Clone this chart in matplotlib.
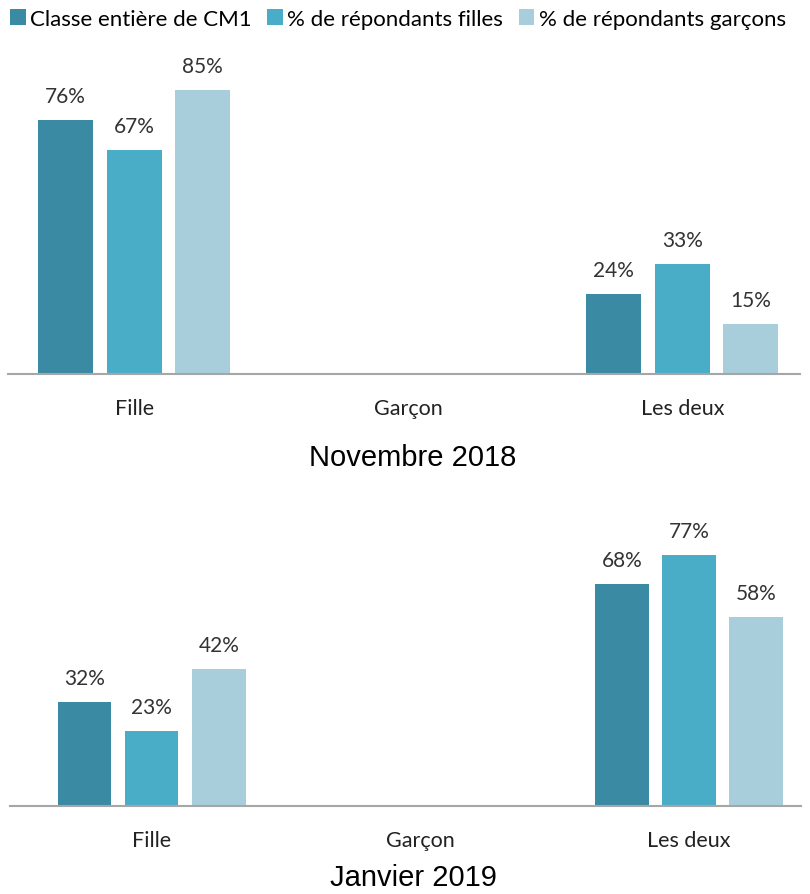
import matplotlib.pyplot as plt
import numpy as np

categories = ["Fille", "Garçon", "Les deux"]
series_names = ["Classe entière de CM1", "% de répondants filles", "% de répondants garçons"]

# valeurs en %, None = pas de barre
nov_2018 = [
    [76, None, 24],
    [67, None, 33],
    [85, None, 15],
]
jan_2019 = [
    [32, None, 68],
    [23, None, 77],
    [42, None, 58],
]

colors = ["#3a8aa3", "#4aadc8", "#a8cedc"]
label_font = ["Lato", "DejaVu Sans"]
title_font = ["Liberation Sans Narrow", "Liberation Sans", "DejaVu Sans"]

fig = plt.figure(figsize=(8.1, 8.95), dpi=100)

ax1 = fig.add_axes([0.0099, 0.581, 0.978, 0.363])
ax2 = fig.add_axes([0.0123, 0.098, 0.976, 0.343])


def draw_panel(ax, data, ymax, xlim):
    x = np.arange(len(categories))
    width = 0.2
    offsets = [-0.25, 0, 0.25]
    for k, serie in enumerate(data):
        for i, v in enumerate(serie):
            if v is None:
                continue
            ax.bar(x[i] + offsets[k], v, width, color=colors[k],
                   label=series_names[k] if i == 0 else None)
            ax.annotate(f"{v}%", (x[i] + offsets[k], v), xytext=(0, 10),
                        textcoords="offset points", ha="center", va="bottom",
                        fontsize=15, family=label_font, color="#333333")
    ax.set_ylim(0, ymax)
    ax.set_xlim(*xlim)
    ax.set_xticks(x)
    ax.set_xticklabels(categories, family=label_font, fontsize=15.5, color="#222222")
    ax.tick_params(axis="x", length=0, pad=17)
    ax.set_yticks([])
    for s in ["top", "right", "left"]:
        ax.spines[s].set_visible(False)
    ax.spines["bottom"].set_color("#a6a6a6")
    ax.spines["bottom"].set_linewidth(1.5)


draw_panel(ax1, nov_2018, 97.3, (-0.46, 2.43))
draw_panel(ax2, jan_2019, 93.9, (-0.527, 2.415))

fig.text(0.51, 0.488, "Novembre 2018", ha="center", va="center",
         fontsize=21, family=title_font)
fig.text(0.51, 0.003, "Janvier 2019", ha="center", va="bottom",
         fontsize=21, family=title_font)

handles, labels = ax1.get_legend_handles_labels()
fig.legend(handles, labels, loc="upper left", bbox_to_anchor=(0.0, 1.0),
           ncol=3, frameon=False, handlelength=0.7, handleheight=0.7,
           handletextpad=0.2, columnspacing=0.7, borderaxespad=0.05,
           prop={"family": label_font, "size": 16})

fig.savefig("out.png", dpi=100)
